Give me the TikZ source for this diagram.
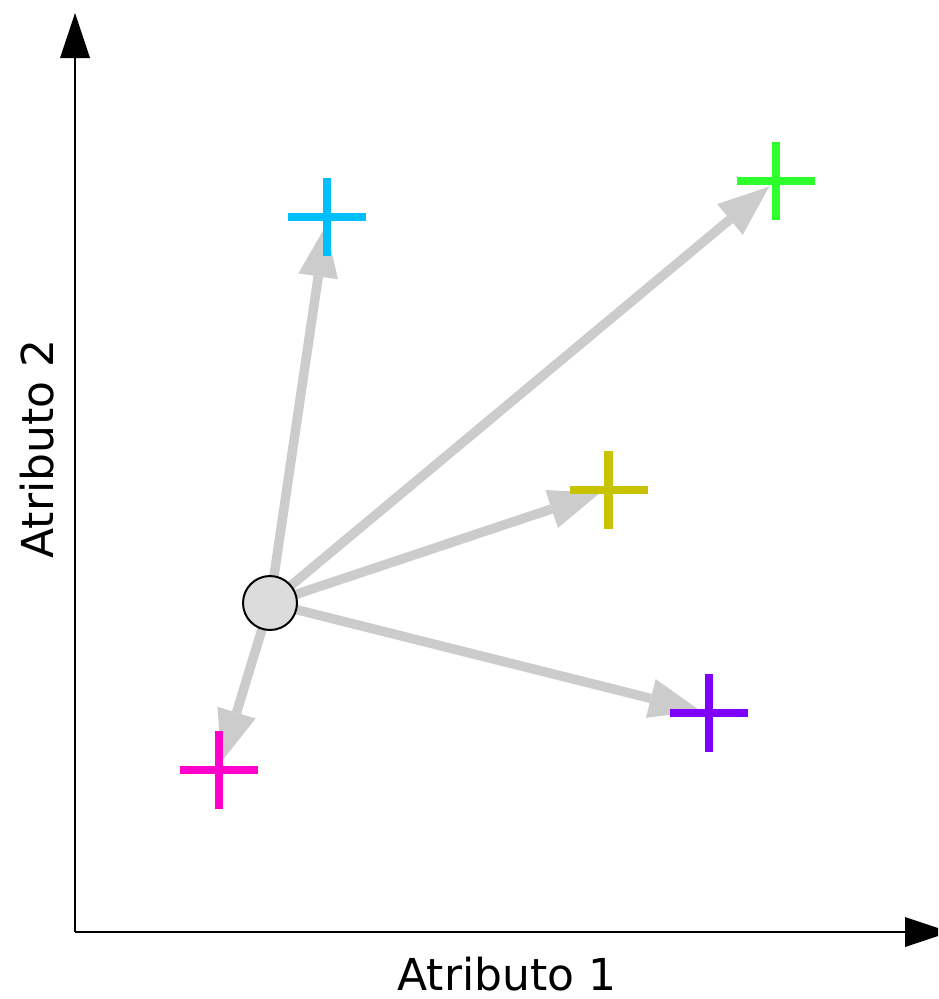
\documentclass[tikz,border=0pt]{standalone}
\usepackage{fontspec}
\setmainfont{DejaVu Sans}
\usetikzlibrary{arrows.meta}
\definecolor{arrowgray}{HTML}{CCCCCC}
\definecolor{circfill}{HTML}{DCDCDC}
\definecolor{pinkc}{HTML}{FF00CC}
\definecolor{cyanc}{HTML}{00BFFF}
\definecolor{greenc}{HTML}{2CFF2C}
\definecolor{olivec}{HTML}{C8C300}
\definecolor{purplec}{HTML}{8000FF}
\begin{document}
\begin{tikzpicture}[x=1pt,y=-1pt,
  axisline/.style={line width=2pt,-{Triangle[length=45pt,width=30pt,line width=0pt]}},
  vec/.style={draw=arrowgray,line width=9.5pt,shorten >=9pt,-{Triangle[length=51pt,width=40pt,line width=0pt]}},
  crossmark/.style={line width=8.5pt},
  lbl/.style={font=\fontsize{44}{53}\selectfont,inner sep=0pt,anchor=base}]
\useasboundingbox (0,0) rectangle (938,999);
\clip (0,0) rectangle (938,999);
% axes
\coordinate (orig) at (75,932);
\coordinate (ytip) at (75,13);
\coordinate (xtip) at (950,932);
\draw[axisline] (orig) -- (ytip);
\draw[axisline] (orig) -- (xtip);
% points
\coordinate (o) at (270,603);
\coordinate (pk) at (219,770);
\coordinate (cy) at (327,217);
\coordinate (gr) at (776,181);
\coordinate (ol) at (608.5,490);
\coordinate (pu) at (709,713);
% arrows
\draw[vec] (o) -- (pk);
\draw[vec] (o) -- (cy);
\draw[vec] (o) -- (gr);
\draw[vec] (o) -- (ol);
\draw[vec] (o) -- (pu);
% crosses
\draw[crossmark,pinkc] (pk) ++(-39,0) -- ++(78,0) (pk) ++(0,-39) -- ++(0,78);
\draw[crossmark,cyanc] (cy) ++(-39,0) -- ++(78,0) (cy) ++(0,-39) -- ++(0,78);
\draw[crossmark,greenc] (gr) ++(-39,0) -- ++(78,0) (gr) ++(0,-39) -- ++(0,78);
\draw[crossmark,olivec] (ol) ++(-39,0) -- ++(78,0) (ol) ++(0,-39) -- ++(0,78);
\draw[crossmark,purplec] (pu) ++(-39,0) -- ++(78,0) (pu) ++(0,-39) -- ++(0,78);
% query point
\node[circle,draw=black,fill=circfill,line width=2pt,minimum size=54pt,inner sep=0pt] (c) at (o) {};
% labels
\node[lbl] (xl) at (507,990) {Atributo 1};
\node[lbl,rotate=90] (yl) at (53,449) {Atributo 2};
\end{tikzpicture}
\end{document}
